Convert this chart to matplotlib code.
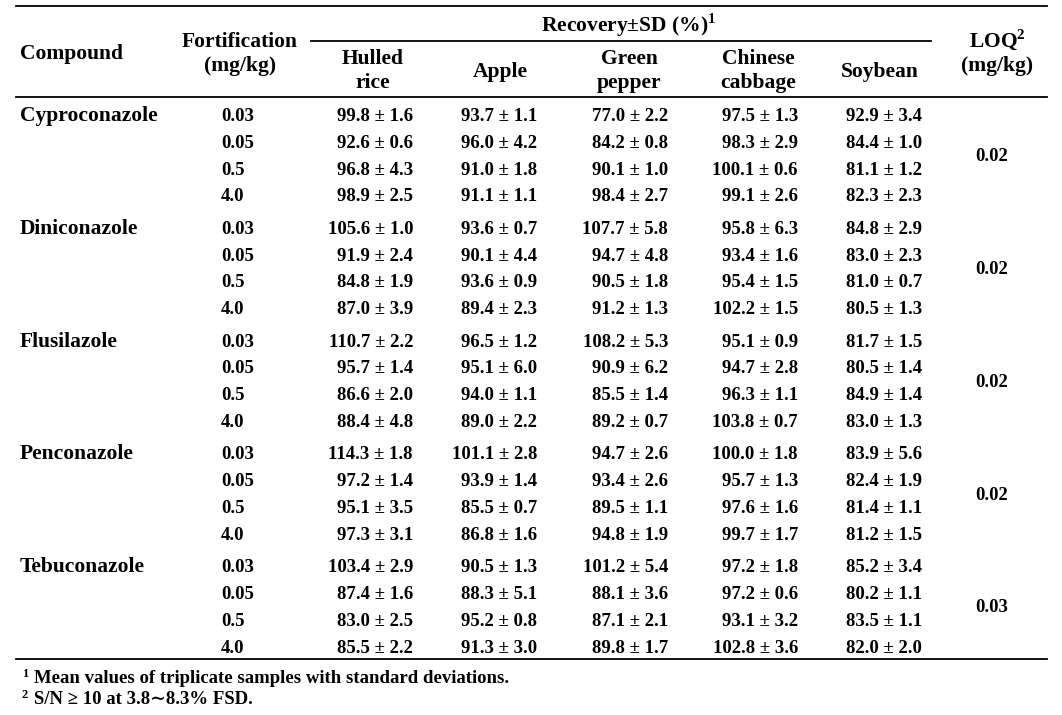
# Recovery table of triazole fungicides in five crops
# drawn as a plain matplotlib figure (text + rules)

import matplotlib.pyplot as plt

plt.rcParams.update({
    "font.family": ["Liberation Serif", "DejaVu Serif"],
    "font.weight": "bold",
    "mathtext.fontset": "custom",
    "mathtext.rm": "Liberation Serif:bold",
    "mathtext.bf": "Liberation Serif:bold",
})

# Data

compounds = ["Cyproconazole", "Diniconazole", "Flusilazole", "Penconazole", "Tebuconazole"]
levels = ["0.03", "0.05", "0.5", "4.0"]
matrices = ["Hulled\nrice", "Apple", "Green\npepper", "Chinese\ncabbage", "Soybean"]
loq = ["0.02", "0.02", "0.02", "0.02", "0.03"]

# mean recovery (%) per compound, rows = fortification level
hulled_rice = [
    [99.8, 92.6, 96.8, 98.9],
    [105.6, 91.9, 84.8, 87.0],
    [110.7, 95.7, 86.6, 88.4],
    [114.3, 97.2, 95.1, 97.3],
    [103.4, 87.4, 83.0, 85.5],
]
hulled_rice_sd = [
    [1.6, 0.6, 4.3, 2.5],
    [1.0, 2.4, 1.9, 3.9],
    [2.2, 1.4, 2.0, 4.8],
    [1.8, 1.4, 3.5, 3.1],
    [2.9, 1.6, 2.5, 2.2],
]
apple = [
    [93.7, 96.0, 91.0, 91.1],
    [93.6, 90.1, 93.6, 89.4],
    [96.5, 95.1, 94.0, 89.0],
    [101.1, 93.9, 85.5, 86.8],
    [90.5, 88.3, 95.2, 91.3],
]
apple_sd = [
    [1.1, 4.2, 1.8, 1.1],
    [0.7, 4.4, 0.9, 2.3],
    [1.2, 6.0, 1.1, 2.2],
    [2.8, 1.4, 0.7, 1.6],
    [1.3, 5.1, 0.8, 3.0],
]
green_pepper = [
    [77.0, 84.2, 90.1, 98.4],
    [107.7, 94.7, 90.5, 91.2],
    [108.2, 90.9, 85.5, 89.2],
    [94.7, 93.4, 89.5, 94.8],
    [101.2, 88.1, 87.1, 89.8],
]
green_pepper_sd = [
    [2.2, 0.8, 1.0, 2.7],
    [5.8, 4.8, 1.8, 1.3],
    [5.3, 6.2, 1.4, 0.7],
    [2.6, 2.6, 1.1, 1.9],
    [5.4, 3.6, 2.1, 1.7],
]
chinese_cabbage = [
    [97.5, 98.3, 100.1, 99.1],
    [95.8, 93.4, 95.4, 102.2],
    [95.1, 94.7, 96.3, 103.8],
    [100.0, 95.7, 97.6, 99.7],
    [97.2, 97.2, 93.1, 102.8],
]
chinese_cabbage_sd = [
    [1.3, 2.9, 0.6, 2.6],
    [6.3, 1.6, 1.5, 1.5],
    [0.9, 2.8, 1.1, 0.7],
    [1.8, 1.3, 1.6, 1.7],
    [1.8, 0.6, 3.2, 3.6],
]
soybean = [
    [92.9, 84.4, 81.1, 82.3],
    [84.8, 83.0, 81.0, 80.5],
    [81.7, 80.5, 84.9, 83.0],
    [83.9, 82.4, 81.4, 81.2],
    [85.2, 80.2, 83.5, 82.0],
]
soybean_sd = [
    [3.4, 1.0, 1.2, 2.3],
    [2.9, 2.3, 0.7, 1.3],
    [1.5, 1.4, 1.4, 1.3],
    [5.6, 1.9, 1.1, 1.5],
    [3.4, 1.1, 1.1, 2.0],
]

means = [hulled_rice, apple, green_pepper, chinese_cabbage, soybean]
sds = [hulled_rice_sd, apple_sd, green_pepper_sd, chinese_cabbage_sd, soybean_sd]

footnotes = [
    ("1", "Mean values of triplicate samples with standard deviations."),
    ("2", "S/N \u2265 10 at 3.8\u223c8.3% FSD."),
]

# Figure in pixel coordinates

W, H = 1062, 715
fig = plt.figure(figsize=(W / 100, H / 100), dpi=100)
ax = fig.add_axes([0, 0, 1, 1])
ax.set_xlim(0, W)
ax.set_ylim(H, 0)
ax.axis("off")

HEAD = 15.5
BODY = 13.5
FOOT = 13.5

# column layout
x_left, x_right = 16, 1047
col_center = [373, 500, 629, 758, 880]
col_right = [413, 537, 668, 798, 922]
x_fort = 221
x_loq = 992

# rules
lw = 1.3
ax.plot([x_left, x_right], [6, 6], color="black", lw=lw)
ax.plot([311, 931], [41, 41], color="black", lw=lw)
ax.plot([x_left, x_right], [97, 97], color="black", lw=lw)
ax.plot([x_left, x_right], [659, 659], color="black", lw=lw)

# header
ax.text(20, 59, "Compound", fontsize=HEAD, va="baseline", ha="left")
ax.text(240, 47, "Fortification", fontsize=HEAD, va="baseline", ha="center")
ax.text(240, 71, "(mg/kg)", fontsize=HEAD, va="baseline", ha="center")
ax.text(629, 32, "Recovery\u00b1SD (%)$^{1}$", fontsize=HEAD,
        va="baseline", ha="center")
for cx, name in zip(col_center, matrices):
    parts = name.split("\n")
    if len(parts) == 2:
        ax.text(cx, 64, parts[0], fontsize=HEAD, va="baseline", ha="center")
        ax.text(cx, 88, parts[1], fontsize=HEAD, va="baseline", ha="center")
    else:
        ax.text(cx, 77, parts[0], fontsize=HEAD, va="baseline", ha="center")
ax.text(997, 47, "LOQ$^{2}$", fontsize=HEAD, va="baseline", ha="center")
ax.text(997, 71, "(mg/kg)", fontsize=HEAD, va="baseline", ha="center")

# body
group_step = 112.8
row_step = 26.8
first_base = 121
for g, comp in enumerate(compounds):
    y0 = first_base + g * group_step
    ax.text(20, y0, comp, fontsize=HEAD, va="baseline", ha="left")
    for r, lev in enumerate(levels):
        y = y0 + r * row_step
        ax.text(x_fort, y, lev, fontsize=BODY, va="baseline", ha="left")
        for c in range(len(matrices)):
            s = f"{means[c][g][r]:.1f} \u00b1 {sds[c][g][r]:.1f}"
            ax.text(col_right[c], y, s, fontsize=BODY, va="baseline", ha="right")
    ax.text(x_loq, y0 + 1.5 * row_step, loq[g], fontsize=BODY,
            va="baseline", ha="center")

# footnotes
for i, (mark, note) in enumerate(footnotes):
    y = 683 + i * 21
    ax.text(22, y - 6, mark, fontsize=9, va="baseline", ha="left")
    ax.text(34, y, note, fontsize=FOOT, va="baseline", ha="left")

fig.savefig("out.png", dpi=100, facecolor="white")
plt.close(fig)
